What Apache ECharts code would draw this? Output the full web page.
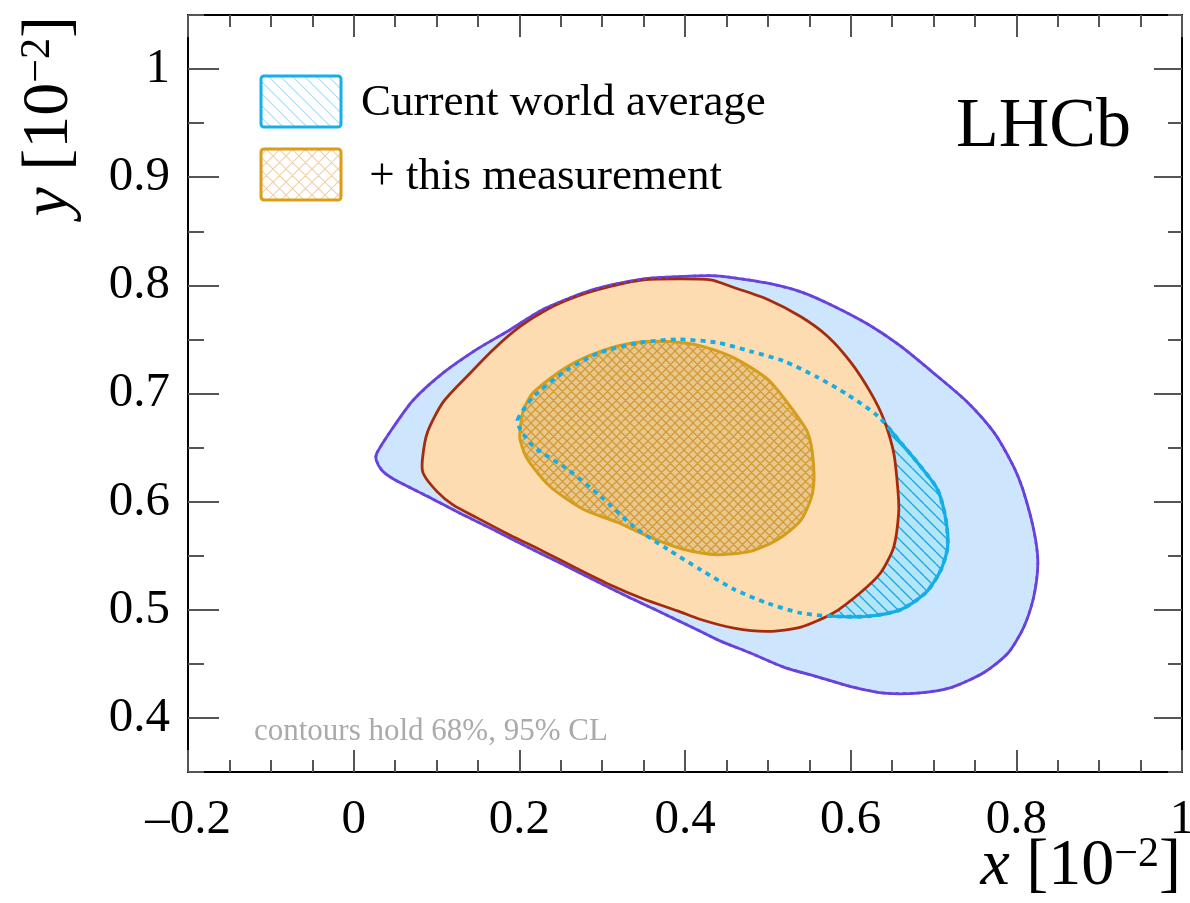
<!DOCTYPE html>
<html>
<head>
<meta charset="utf-8">
<title>LHCb x-y contours</title>
<script src="https://cdn.jsdelivr.net/npm/echarts@6/dist/echarts.min.js"></script>
<style>
  html, body { margin: 0; padding: 0; background: #fff; }
  #chart { width: 1190px; height: 903px; }
</style>
</head>
<body>
<div id="chart"></div>
<script>
(function () {
  'use strict';

  // contour points [x, y] in units of 10^-2
  var worldAvg95 = [
    [0.028, 0.645], [0.048, 0.669], [0.072, 0.694], [0.108, 0.719], [0.149, 0.741],
    [0.189, 0.759], [0.229, 0.778], [0.289, 0.796], [0.350, 0.806], [0.391, 0.808],
    [0.431, 0.809], [0.459, 0.807], [0.500, 0.802], [0.540, 0.794], [0.579, 0.781],
    [0.621, 0.764], [0.660, 0.744], [0.700, 0.719], [0.741, 0.692], [0.773, 0.664],
    [0.797, 0.632], [0.808, 0.611], [0.821, 0.574], [0.826, 0.544], [0.821, 0.512],
    [0.809, 0.484], [0.790, 0.460], [0.761, 0.442], [0.721, 0.428], [0.681, 0.423],
    [0.640, 0.423], [0.600, 0.429], [0.560, 0.438], [0.519, 0.447], [0.479, 0.460],
    [0.443, 0.471], [0.419, 0.480], [0.370, 0.498], [0.331, 0.512], [0.289, 0.528],
    [0.250, 0.543], [0.210, 0.558], [0.169, 0.574], [0.129, 0.589], [0.089, 0.605],
    [0.048, 0.621], [0.034, 0.629], [0.027, 0.639]
  ];
  var worldAvg68 = [
    [0.198, 0.676], [0.217, 0.697], [0.258, 0.722], [0.298, 0.738], [0.346, 0.747],
    [0.391, 0.750], [0.439, 0.747], [0.479, 0.739], [0.519, 0.730], [0.560, 0.715],
    [0.596, 0.699], [0.633, 0.679], [0.660, 0.655], [0.685, 0.632], [0.705, 0.611],
    [0.715, 0.583], [0.717, 0.558], [0.709, 0.537], [0.691, 0.516], [0.660, 0.500],
    [0.621, 0.494], [0.579, 0.494], [0.540, 0.497], [0.500, 0.506], [0.459, 0.519],
    [0.419, 0.537], [0.379, 0.556], [0.338, 0.577], [0.298, 0.605], [0.258, 0.630],
    [0.217, 0.651], [0.201, 0.667]
  ];
  var combined95 = [
    [0.083, 0.639], [0.089, 0.664], [0.108, 0.692], [0.137, 0.716], [0.169, 0.741],
    [0.201, 0.762], [0.234, 0.778], [0.270, 0.790], [0.310, 0.799], [0.350, 0.805],
    [0.391, 0.806], [0.431, 0.805], [0.459, 0.798], [0.500, 0.787], [0.540, 0.771],
    [0.572, 0.753], [0.600, 0.729], [0.624, 0.701], [0.640, 0.676], [0.652, 0.645],
    [0.657, 0.611], [0.658, 0.590], [0.652, 0.558], [0.636, 0.534], [0.612, 0.516],
    [0.579, 0.497], [0.540, 0.484], [0.500, 0.480], [0.459, 0.483], [0.419, 0.491],
    [0.391, 0.499], [0.350, 0.510], [0.310, 0.523], [0.270, 0.538], [0.229, 0.554],
    [0.189, 0.569], [0.149, 0.585], [0.120, 0.597], [0.101, 0.609], [0.084, 0.626]
  ];
  var combined68 = [
    [0.201, 0.667], [0.205, 0.685], [0.217, 0.701], [0.258, 0.725], [0.298, 0.739],
    [0.338, 0.747], [0.379, 0.748], [0.419, 0.744], [0.459, 0.733], [0.500, 0.713],
    [0.527, 0.688], [0.548, 0.664], [0.555, 0.636], [0.554, 0.608], [0.540, 0.583],
    [0.512, 0.565], [0.479, 0.554], [0.439, 0.551], [0.398, 0.556], [0.358, 0.567],
    [0.318, 0.581], [0.277, 0.593], [0.237, 0.614], [0.210, 0.639], [0.201, 0.657]
  ];

  var yMajorTicks = [0.4, 0.5, 0.6, 0.7, 0.8, 0.9, 1.0];
  var legendLabels = ['Current world average', ' + this measurement'];

  var SERIF = '"Liberation Serif", "DejaVu Serif", serif';

  // hatch tile: diagonal "\" lines, optionally crossed
  function hatch(size, bg, color, width, cross) {
    var c = document.createElement('canvas');
    c.width = size;
    c.height = size;
    var ctx = c.getContext('2d');
    ctx.fillStyle = bg;
    ctx.fillRect(0, 0, size, size);
    ctx.strokeStyle = color;
    ctx.lineWidth = width;
    ctx.beginPath();
    for (var k = -1; k <= 1; k++) {
      ctx.moveTo(k * size, 0);
      ctx.lineTo(k * size + size, size);
      if (cross) {
        ctx.moveTo(k * size, size);
        ctx.lineTo(k * size + size, 0);
      }
    }
    ctx.stroke();
    return { image: c, repeat: 'repeat' };
  }

  function contour(name, pts, style) {
    return {
      name: name,
      type: 'custom',
      coordinateSystem: 'cartesian2d',
      silent: true,
      clip: true,
      data: pts,
      renderItem: function (params, api) {
        if (params.dataIndex !== 0) return null;
        var points = pts.map(function (p) { return api.coord(p); });
        return {
          type: 'polygon',
          shape: { points: points, smooth: 0.25 },
          style: style
        };
      }
    };
  }

  var chart = echarts.init(document.getElementById('chart'), null, { renderer: 'canvas' });

  var tickColor = '#555';
  var frameLine = { onZero: false, lineStyle: { color: '#000', width: 2 } };
  var noLine = { show: false, onZero: false };

  function xFmt(v) {
    var r = Math.round(v * 10) / 10;
    var s = String(Math.abs(r));
    return r < 0 ? '\u2013' + s : s;
  }

  var titleRich = {
    i: { font: 'italic 66px ' + SERIF, fill: '#000', lineHeight: 66 },
    n: { font: '66px ' + SERIF, fill: '#000', lineHeight: 66 },
    s: { font: '42px ' + SERIF, fill: '#000', verticalAlign: 'top', lineHeight: 42 }
  };

  var option = {
    backgroundColor: '#fff',
    animation: false,
    grid: { left: 188, right: 8, top: 15, bottom: 131, containLabel: false, outerBoundsMode: 'none' },
    xAxis: [{
      type: 'value', min: -0.2, max: 1.0, interval: 0.2, position: 'bottom',
      axisLine: frameLine,
      axisTick: { inside: true, length: 22, lineStyle: { color: tickColor, width: 2 } },
      minorTick: { show: true, splitNumber: 4, length: 12, lineStyle: { color: tickColor, width: 2 } },
      axisLabel: { formatter: xFmt, color: '#000', fontFamily: SERIF, fontSize: 49, margin: 24 },
      splitLine: { show: false }
    }, {
      type: 'value', min: -0.2, max: 1.0, interval: 0.2, position: 'top',
      axisLine: frameLine,
      axisTick: { inside: true, length: 22, lineStyle: { color: tickColor, width: 2 } },
      minorTick: { show: true, splitNumber: 4, length: 12, lineStyle: { color: tickColor, width: 2 } },
      axisLabel: { show: false },
      splitLine: { show: false }
    }],
    yAxis: [{
      type: 'value', min: 0.35, max: 1.05, position: 'left',
      axisLine: frameLine,
      axisTick: { inside: true, length: 31, customValues: yMajorTicks, lineStyle: { color: tickColor, width: 2 } },
      axisLabel: {
        customValues: yMajorTicks, color: '#000', fontFamily: SERIF, fontSize: 49, margin: 18,
        formatter: function (v) { return String(Math.round(v * 10) / 10); }
      },
      splitLine: { show: false }
    }, {
      type: 'value', min: 0.35, max: 1.05, interval: 0.05, position: 'left',
      axisLine: noLine,
      axisTick: { inside: true, length: 16, lineStyle: { color: tickColor, width: 2 } },
      axisLabel: { show: false },
      splitLine: { show: false }
    }, {
      type: 'value', min: 0.35, max: 1.05, position: 'right',
      axisLine: frameLine,
      axisTick: { inside: true, length: 28, customValues: yMajorTicks, lineStyle: { color: tickColor, width: 2 } },
      axisLabel: { show: false },
      splitLine: { show: false }
    }, {
      type: 'value', min: 0.35, max: 1.05, interval: 0.05, position: 'right',
      axisLine: noLine,
      axisTick: { inside: true, length: 14, lineStyle: { color: tickColor, width: 2 } },
      axisLabel: { show: false },
      splitLine: { show: false }
    }],
    series: [
      contour('world95', worldAvg95, { fill: '#cde6fd', stroke: '#6842de', lineWidth: 2.8 }),
      contour('world68', worldAvg68, {
        fill: hatch(12, '#b3e6fb', '#1ca4dc', 1.3, false), stroke: '#12aee8', lineWidth: 3.2
      }),
      contour('comb95', combined95, { fill: '#fddcb2', stroke: '#a52b0c', lineWidth: 2.8 }),
      contour('comb68', combined68, {
        fill: hatch(9, '#eac791', '#d29c32', 1.3, true), stroke: '#d49d1c', lineWidth: 3
      }),
      contour('world95dots', worldAvg95, {
        fill: 'none', stroke: '#6842de', lineWidth: 2.6, lineDash: [3, 4]
      }),
      contour('world68dots', worldAvg68, {
        fill: 'none', stroke: '#17aee6', lineWidth: 3.8, lineDash: [5, 5]
      })
    ],
    graphic: [
      {
        type: 'rect', z: 100,
        shape: { x: 261, y: 76, width: 80, height: 51, r: 3 },
        style: { fill: hatch(12, '#ffffff', '#a9dcf5', 1.1, false), stroke: '#14b0ea', lineWidth: 3 }
      },
      {
        type: 'rect', z: 100,
        shape: { x: 261, y: 149, width: 80, height: 51, r: 3 },
        style: { fill: hatch(13, '#ffffff', '#f2cfa4', 1.1, true), stroke: '#d99e16', lineWidth: 3 }
      },
      {
        type: 'text', z: 100, x: 361, y: 103,
        style: { text: legendLabels[0], font: '45px ' + SERIF, fill: '#000', verticalAlign: 'middle' }
      },
      {
        type: 'text', z: 100, x: 358, y: 177,
        style: { text: legendLabels[1], font: '45px ' + SERIF, fill: '#000', verticalAlign: 'middle' }
      },
      {
        type: 'text', z: 100, x: 1131, y: 128,
        style: { text: 'LHCb', font: '70px ' + SERIF, fill: '#000', align: 'right', verticalAlign: 'middle' }
      },
      {
        type: 'text', z: 100, x: 254, y: 732,
        style: { text: 'contours hold 68%, 95% CL', font: '31px ' + SERIF, fill: '#aaaaaa', verticalAlign: 'middle' }
      },
      {
        type: 'text', z: 100, x: 1181, y: 867,
        style: { text: '{i|x}{n| [10}{s|\u22122}{n|]}', align: 'right', verticalAlign: 'middle', rich: titleRich }
      },
      {
        type: 'text', z: 100, x: 50, y: 16, rotation: Math.PI / 2,
        style: { text: '{i|y}{n| [10}{s|\u22122}{n|]}', align: 'right', verticalAlign: 'middle', rich: titleRich }
      }
    ]
  };

  chart.setOption(option);
})();
</script>
</body>
</html>
